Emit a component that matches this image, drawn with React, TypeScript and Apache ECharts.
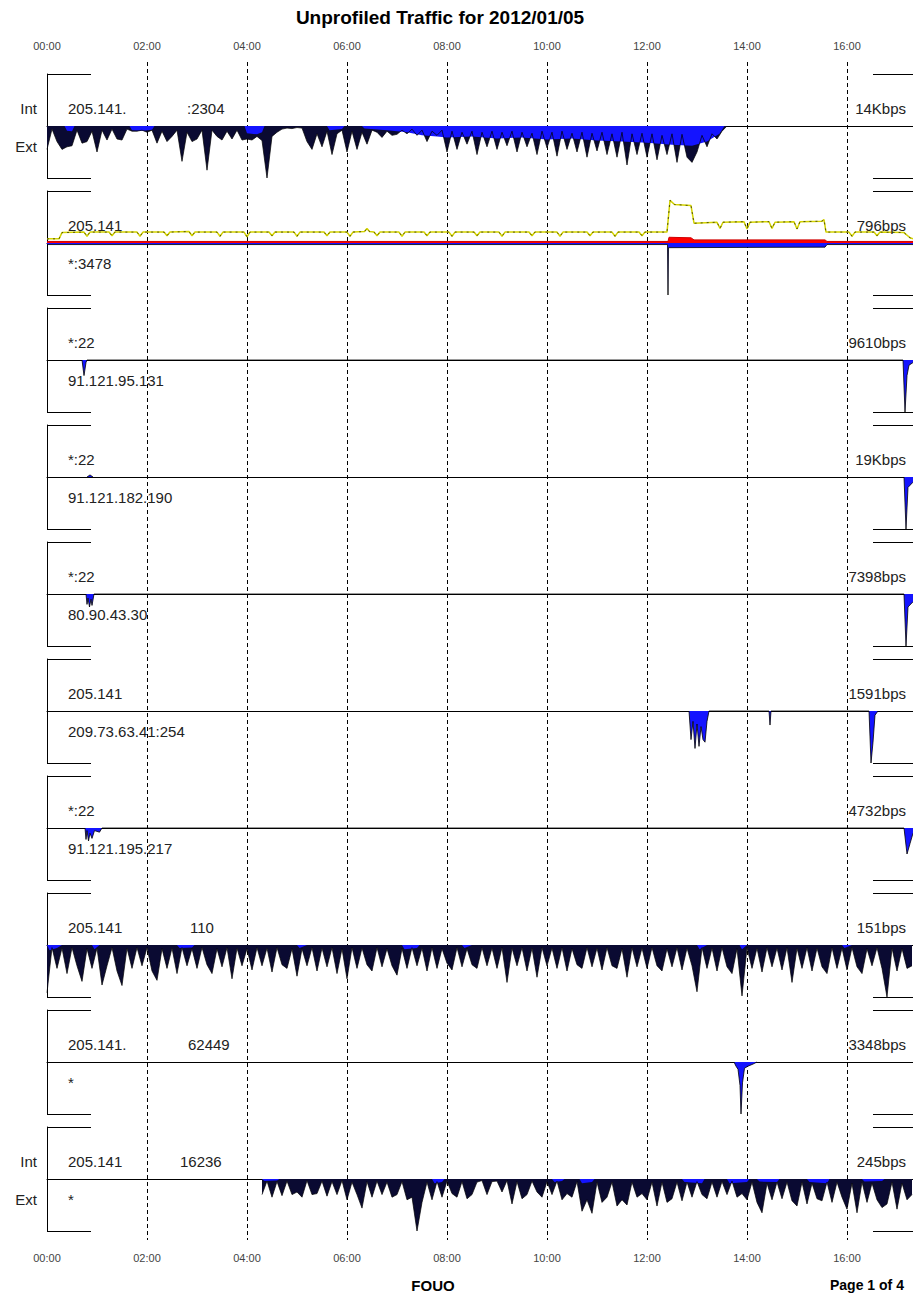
import React, { useEffect, useRef } from "react";
import * as echarts from "echarts";

// ---------- texts ----------
const TITLE = "Unprofiled Traffic for 2012/01/05";
const FOOTER_CENTER = "FOUO";
const FOOTER_RIGHT = "Page 1 of 4";
const TIME_LABELS = ["00:00", "02:00", "04:00", "06:00", "08:00", "10:00", "12:00", "14:00", "16:00"];
const X_MAX_HOURS = 17.32; // visible part of the day (page is cut at the right)

const topLabels = ["205.141.", "205.141", "*:22", "*:22", "*:22", "205.141", "*:22", "205.141", "205.141.", "205.141"];
const portLabels = [":2304", "", "", "", "", "", "", "110", "62449", "16236"];
const bottomLabels = ["", "*:3478", "91.121.95.131", "91.121.182.190", "80.90.43.30", "209.73.63.41:254", "91.121.195.217", "", "*", "*"];
const scaleLabels = ["14Kbps", "796bps", "9610bps", "19Kbps", "7398bps", "1591bps", "4732bps", "151bps", "3348bps", "245bps"];
const intExtPanels = [0, 9];

// ---------- data (percent of each panel's scale; Ext drawn below the baseline) ----------
const STEP = 0.1; // hours between spike samples
const p1ExtStart = 0;
const p1Ext = [
  45, 6, 30, 45, 40, 38, 8, 33, 30, 10,
  50, 8, 27, 6, 25, 27, 6, 10, 10, 8,
  12, 8, 33, 10, 30, 20, 8, 68, 12, 30,
  25, 8, 85, 8, 20, 27, 10, 25, 8, 27,
  25, 27, 20, 28, 100, 20, 12, 6, 4, 5,
  3, 4, 30, 45, 15, 40, 10, 55, 15, 8,
  50, 10, 45, 12, 35, 8, 12, 22, 10, 18,
  16, 8, 15, 6, 18, 8, 30, 10, 18, 8,
  50, 10, 45, 12, 35, 10, 55, 12, 40, 10,
  45, 12, 38, 10, 50, 12, 40, 14, 55, 10,
  42, 12, 58, 10, 45, 14, 50, 12, 60, 14,
  48, 12, 55, 15, 60, 12, 75, 15, 55, 14,
  60, 15, 65, 18, 55, 15, 70, 16, 60, 70,
  50, 18, 40, 15, 25, 10, 0,
];
const p1Base: [number, number][] = [
  [0, 0], [0.35, 0], [0.4, 9], [0.5, 10], [0.55, 0], [1.65, 0], [1.7, 8], [1.9, 9], [2.1, 7], [2.15, 0],
  [3.95, 0], [4.0, 14], [4.2, 16], [4.3, 12], [4.35, 0], [5.6, 0], [5.65, 8], [5.9, 6], [5.95, 0],
  [6.3, 0], [6.35, 5], [6.8, 8], [7.2, 12], [7.5, 18], [7.8, 20], [8.0, 22], [8.5, 20], [9.0, 24], [9.5, 22],
  [10.0, 26], [10.5, 24], [11.0, 28], [11.5, 30], [12.0, 32], [12.5, 36], [12.9, 38], [13.2, 30], [13.45, 15], [13.55, 0],
];

const p2Int: [number, number][] = [[0, 3], [12.42, 3], [12.44, 11], [12.88, 10], [12.94, 6], [15.56, 6], [15.6, 3], [17.32, 3]];
const p2Ext: [number, number][] = [[0, 3], [12.41, 3], [12.42, 100], [12.43, 9], [15.56, 8], [15.6, 3], [17.32, 3]];
const p2Avg: [number, number][] = [
  [0, 8], [0.24, 8], [0.3, 20], [0.74, 21], [0.8, 13], [0.86, 21], [1.24, 21], [1.3, 14], [1.36, 21],
  [1.8, 21], [1.86, 13], [1.92, 21], [2.34, 21], [2.4, 14], [2.46, 21], [2.84, 22], [2.9, 14], [2.96, 21],
  [3.4, 21], [3.46, 13], [3.52, 21], [3.94, 21], [4.0, 12], [4.06, 21], [4.44, 21], [4.5, 14], [4.56, 21],
  [4.94, 21], [5.0, 13], [5.06, 21], [5.54, 21], [5.6, 14], [5.66, 21], [6.0, 21], [6.06, 13], [6.12, 21],
  [6.35, 22], [6.4, 28], [6.45, 22], [6.54, 21], [6.6, 14], [6.66, 21], [7.04, 21], [7.1, 13], [7.16, 21],
  [7.54, 21], [7.6, 14], [7.66, 21], [8.04, 21], [8.1, 13], [8.16, 21], [8.54, 21], [8.6, 14], [8.66, 21],
  [9.04, 21], [9.1, 13], [9.16, 21], [9.64, 21], [9.7, 14], [9.76, 21], [10.2, 21], [10.26, 13], [10.32, 21],
  [10.8, 21], [10.86, 14], [10.92, 21], [11.3, 21], [11.36, 13], [11.42, 21], [11.84, 21], [11.9, 14], [11.96, 21],
  [12.4, 21], [12.46, 82], [12.55, 74], [12.88, 72], [12.94, 38], [13.4, 40], [13.46, 28], [13.52, 40],
  [13.94, 41], [14.0, 27], [14.06, 40], [14.44, 41], [14.5, 28], [14.56, 40], [14.94, 41], [15.0, 27], [15.06, 41],
  [15.5, 42], [15.54, 45], [15.58, 21], [16.04, 21], [16.1, 13], [16.16, 21], [16.54, 21], [16.6, 14], [16.66, 21],
  [17.14, 20], [17.26, 10], [17.32, 8],
];

const p3Ext: [number, number][] = [[0.7, 0], [0.74, 30], [0.78, 5], [0.8, 0], [17.12, 0], [17.16, 100], [17.2, 30], [17.24, 10], [17.32, 5]];
const p4Int: [number, number][] = [[0.8, 0], [0.86, 4], [0.92, 0]];
const p4Ext: [number, number][] = [[17.14, 0], [17.18, 100], [17.22, 20], [17.32, 10]];
const p5Ext: [number, number][] = [[0.78, 0], [0.8, 20], [0.82, 8], [0.85, 25], [0.88, 10], [0.9, 22], [0.94, 0], [17.14, 0], [17.18, 100], [17.22, 25], [17.32, 15]];
const p6Ext: [number, number][] = [
  [12.84, 0], [12.88, 55], [12.92, 20], [12.96, 72], [13.0, 25], [13.04, 68], [13.08, 30], [13.12, 55], [13.16, 60], [13.2, 20], [13.24, 0],
  [14.44, 0], [14.46, 27], [14.48, 0],
  [16.44, 0], [16.48, 100], [16.52, 60], [16.56, 8], [16.62, 0],
];
const p7Ext: [number, number][] = [[0.76, 0], [0.78, 22], [0.8, 5], [0.83, 25], [0.86, 10], [0.9, 20], [0.95, 5], [1.05, 8], [1.1, 0], [17.14, 0], [17.2, 50], [17.26, 30], [17.32, 10]];

const p8ExtStart = 0;
const p8Ext = [
  92, 5, 45, 6, 55, 5, 40, 70, 7, 45,
  6, 77, 40, 5, 50, 78, 6, 45, 5, 40,
  5, 50, 68, 7, 45, 6, 55, 5, 40, 7,
  45, 5, 38, 55, 7, 42, 5, 65, 6, 40,
  7, 48, 5, 40, 6, 52, 5, 38, 45, 7,
  60, 7, 40, 5, 50, 6, 42, 5, 55, 7,
  65, 5, 45, 6, 38, 50, 5, 42, 7, 40,
  58, 7, 45, 5, 40, 6, 50, 5, 45, 7,
  35, 48, 5, 42, 7, 38, 45, 5, 40, 6,
  45, 5, 72, 6, 40, 5, 50, 6, 62, 5,
  40, 6, 45, 5, 50, 7, 38, 45, 5, 42,
  6, 48, 5, 40, 45, 7, 62, 5, 42, 6,
  45, 5, 40, 50, 7, 42, 5, 48, 6, 40,
  90, 5, 45, 6, 50, 5, 42, 55, 7, 98,
  5, 45, 6, 52, 5, 42, 6, 48, 5, 72,
  6, 45, 5, 50, 6, 42, 55, 5, 45, 6,
  48, 5, 42, 55, 7, 40, 5, 45, 100, 6,
  50, 7, 45, 40,
];
const p8Base: [number, number][] = [
  [0, 0], [0.05, 10], [0.2, 6], [0.3, 0], [0.9, 0], [0.95, 8], [1.05, 0], [2.6, 0], [2.65, 6], [2.9, 5], [2.95, 0],
  [5.0, 0], [5.05, 6], [5.2, 0], [7.1, 0], [7.15, 8], [7.4, 6], [7.45, 0], [8.3, 0], [8.35, 6], [8.5, 0],
  [13.0, 0], [13.05, 8], [13.2, 0], [13.85, 0], [13.9, 8], [14.0, 0], [15.9, 0], [15.95, 6], [16.1, 0],
];

const p9Ext: [number, number][] = [[13.74, 0], [13.78, 8], [13.82, 14], [13.86, 45], [13.88, 100], [13.91, 40], [13.95, 12], [14.02, 8], [14.12, 4], [14.2, 0]];

const p10ExtStart = 4.3;
const p10Ext = [
  30, 4, 35, 5, 32, 4, 30,
  25, 35, 3, 30, 28, 4, 33, 5, 30, 3,
  40, 6, 30, 56, 5, 35, 4, 30, 6, 35,
  30, 5, 40, 35, 100, 45, 6, 40, 5, 35,
  4, 28, 35, 5, 38, 30, 6, 3, 30, 5,
  4, 25, 3, 48, 5, 38, 30, 4, 25, 35,
  5, 30, 4, 40, 28, 35, 5, 62, 40, 66,
  6, 45, 35, 6, 52, 40, 50, 6, 35, 28,
  40, 6, 52, 6, 45, 38, 6, 42, 6, 35,
  5, 30, 38, 6, 35, 5, 30, 4, 35, 28,
  40, 6, 45, 65, 8, 40, 6, 38, 6, 42,
  52, 6, 48, 8, 38, 42, 6, 45, 6, 35,
  58, 8, 65, 6, 45, 8, 40, 55, 48, 6,
  58, 8, 40, 30,
];
const p10Base: [number, number][] = [
  [4.3, 0], [4.35, 4], [4.6, 3], [4.65, 0], [7.7, 0], [7.75, 8], [7.9, 6], [7.95, 0], [10.1, 0], [10.15, 6], [10.3, 4], [10.35, 0],
  [10.65, 0], [10.7, 8], [10.9, 6], [10.95, 0], [12.7, 0], [12.75, 6], [13.1, 8], [13.15, 0], [13.6, 0], [13.65, 8], [14.0, 6], [14.05, 0],
  [14.2, 0], [14.25, 5], [14.6, 6], [14.65, 0], [15.2, 0], [15.25, 6], [15.6, 8], [15.65, 0], [16.3, 0], [16.35, 5], [16.7, 4], [16.75, 0],
];

// ---------- layout ----------
const BASE0 = 126;
const GAP = 117;
const HALF = 52;
const LEFT = 47;
const PLOT_W = 866;
const portLabelX = [187, 0, 0, 0, 0, 0, 0, 190, 188, 180];
const FONT = "Liberation Sans, Arial, Helvetica, sans-serif";
const BLUE = "#1414ff";
const SPIKE = "#0a0a32";

function stepSeries(start: number, vals: number[], sign: number) {
  return vals.map((v, i) => [Math.round((start + i * STEP) * 1000) / 1000, sign * v]);
}
function pairSeries(pairs: [number, number][], sign: number) {
  return pairs.map(([t, v]) => [t, sign * v]);
}

function buildOption() {
  const grid: any[] = [];
  const xAxis: any[] = [];
  const yAxis: any[] = [];
  const series: any[] = [];
  const graphic: any[] = [];

  // dense panels: dark spiky area, blue sustained-traffic band, spike outline on top
  const dense: Record<number, { spikes: any[]; base: any[] }> = {
    0: { spikes: stepSeries(p1ExtStart, p1Ext, -1), base: pairSeries(p1Base, -1) },
    7: { spikes: stepSeries(p8ExtStart, p8Ext, -1), base: pairSeries(p8Base, -1) },
    9: { spikes: stepSeries(p10ExtStart, p10Ext, -1), base: pairSeries(p10Base, -1) },
  };
  // sparse panels: outlined blue areas
  const sparse: Record<number, any[]> = {
    1: pairSeries(p2Ext, -1),
    2: pairSeries(p3Ext, -1),
    3: pairSeries(p4Ext, -1),
    4: pairSeries(p5Ext, -1),
    5: pairSeries(p6Ext, -1),
    6: pairSeries(p7Ext, -1),
    8: pairSeries(p9Ext, -1),
  };

  for (let i = 0; i < 10; i++) {
    const b = BASE0 + GAP * i;
    grid.push({ left: LEFT, top: b - HALF, width: PLOT_W, height: 2 * HALF });
    xAxis.push({
      gridIndex: i, type: "value", min: 0, max: X_MAX_HOURS,
      axisLine: { show: true, onZero: true, lineStyle: { color: "#000", width: 1 } },
      axisTick: { show: false }, axisLabel: { show: false }, splitLine: { show: false },
    });
    yAxis.push({
      gridIndex: i, type: "value", min: -100, max: 100,
      axisLine: { show: true, onZero: false, lineStyle: { color: "#000", width: 1 } },
      axisTick: { show: false }, axisLabel: { show: false }, splitLine: { show: false },
    });

    if (i === 1) {
      series.push({
        type: "line", xAxisIndex: i, yAxisIndex: i, symbol: "none", z: 3,
        data: pairSeries(p2Int, 1),
        lineStyle: { color: "#d00000", width: 1 },
        areaStyle: { color: "#ff0000", opacity: 1 },
      });
      series.push({
        type: "line", xAxisIndex: i, yAxisIndex: i, symbol: "none", z: 4,
        data: pairSeries(p2Avg, 1),
        lineStyle: { color: "#d4d400", width: 1.5 },
      });
      series.push({
        type: "line", xAxisIndex: i, yAxisIndex: i, symbol: "none", z: 5,
        data: pairSeries(p2Avg, 1),
        lineStyle: { color: "#333300", width: 0.8, type: [2, 4] },
      });
    }
    if (i === 3) {
      series.push({
        type: "line", xAxisIndex: i, yAxisIndex: i, symbol: "none",
        data: pairSeries(p4Int, 1),
        lineStyle: { color: "#000", width: 0.8 },
        areaStyle: { color: BLUE, opacity: 1 },
      });
    }
    if (dense[i]) {
      series.push({
        type: "line", xAxisIndex: i, yAxisIndex: i, symbol: "none", z: 2,
        data: dense[i].spikes,
        lineStyle: { width: 0 },
        areaStyle: { color: SPIKE, opacity: 1 },
      });
      series.push({
        type: "line", xAxisIndex: i, yAxisIndex: i, symbol: "none", z: 3,
        data: dense[i].base,
        lineStyle: { width: 0 },
        areaStyle: { color: BLUE, opacity: 1 },
      });
      series.push({
        type: "line", xAxisIndex: i, yAxisIndex: i, symbol: "none", z: 4,
        data: dense[i].spikes,
        lineStyle: { color: "#000", width: 0.7 },
      });
    }
    if (sparse[i]) {
      series.push({
        type: "line", xAxisIndex: i, yAxisIndex: i, symbol: "none", z: 3,
        data: sparse[i],
        lineStyle: { color: "#000", width: 0.8 },
        areaStyle: { color: BLUE, opacity: 1 },
      });
    }

    // brackets
    const yt = b - HALF + 0.5;
    const yb = b + HALF + 0.5;
    const line = (x1: number, y1: number, x2: number, y2: number) => ({
      type: "line", z: 10, silent: true,
      shape: { x1, y1, x2, y2 }, style: { stroke: "#000", lineWidth: 1 },
    });
    graphic.push(line(LEFT, yt, 91, yt), line(LEFT, yb, 91, yb));
    graphic.push(line(873, yt, 913, yt), line(873, yb, 913, yb));

    const text = (t: string, x: number, y: number, align: string, size = 15) => ({
      type: "text", z: 10, silent: true, x, y,
      style: { text: t, fill: "#222", font: `${size}px ${FONT}`, textAlign: align, textVerticalAlign: "middle" },
    });
    if (topLabels[i]) graphic.push(text(topLabels[i], 68, b - 18, "left"));
    if (portLabels[i]) graphic.push(text(portLabels[i], portLabelX[i], b - 18, "left"));
    if (bottomLabels[i]) graphic.push(text(bottomLabels[i], 68, b + 20, "left"));
    graphic.push(text(scaleLabels[i], 906, b - 18, "right"));
    if (intExtPanels.includes(i)) {
      graphic.push(text("Int", 37, b - 18, "right"));
      graphic.push(text("Ext", 37, b + 20, "right"));
    }
  }

  // overlay grid for dashed hour lines and the time labels
  const labelFmt = (v: number) => (Math.abs(v % 2) < 1e-6 ? TIME_LABELS[Math.round(v / 2)] ?? "" : "");
  grid.push({ left: LEFT, top: 62, width: PLOT_W, height: 1178 });
  xAxis.push({
    gridIndex: 10, type: "value", position: "top", min: 0, max: X_MAX_HOURS, interval: 2,
    axisLine: { show: false }, axisTick: { show: false },
    axisLabel: { show: true, margin: 11, formatter: labelFmt, fontSize: 11, color: "#444", fontFamily: FONT, showMaxLabel: false },
    splitLine: { show: true, showMinLine: false, showMaxLine: false, lineStyle: { color: "#000", width: 1, type: [4, 3] } },
  });
  xAxis.push({
    gridIndex: 10, type: "value", position: "bottom", min: 0, max: X_MAX_HOURS, interval: 2,
    axisLine: { show: false }, axisTick: { show: false },
    axisLabel: { show: true, margin: 12, formatter: labelFmt, fontSize: 11, color: "#444", fontFamily: FONT, showMaxLabel: false },
    splitLine: { show: false },
  });
  yAxis.push({ gridIndex: 10, type: "value", min: 0, max: 1, show: false });

  graphic.push({
    type: "text", z: 10, x: 440, y: 17,
    style: { text: TITLE, fill: "#000", font: `bold 19px ${FONT}`, textAlign: "center", textVerticalAlign: "middle" },
  });
  graphic.push({
    type: "text", z: 10, x: 433, y: 1285,
    style: { text: FOOTER_CENTER, fill: "#000", font: `bold 15px ${FONT}`, textAlign: "center", textVerticalAlign: "middle" },
  });
  graphic.push({
    type: "text", z: 10, x: 830, y: 1285,
    style: { text: FOOTER_RIGHT, fill: "#000", font: `bold 14px ${FONT}`, textAlign: "left", textVerticalAlign: "middle" },
  });

  return { animation: false, backgroundColor: "#fff", grid, xAxis, yAxis, series, graphic };
}

export default function App() {
  const ref = useRef<HTMLDivElement>(null);
  useEffect(() => {
    const chart = echarts.init(ref.current!, null, { renderer: "svg" });
    chart.setOption(buildOption());
    return () => chart.dispose();
  }, []);
  return (
    <div
      ref={ref}
      style={{ position: "absolute", left: 0, top: 0, width: 913, height: 1293, background: "#fff" }}
    />
  );
}
